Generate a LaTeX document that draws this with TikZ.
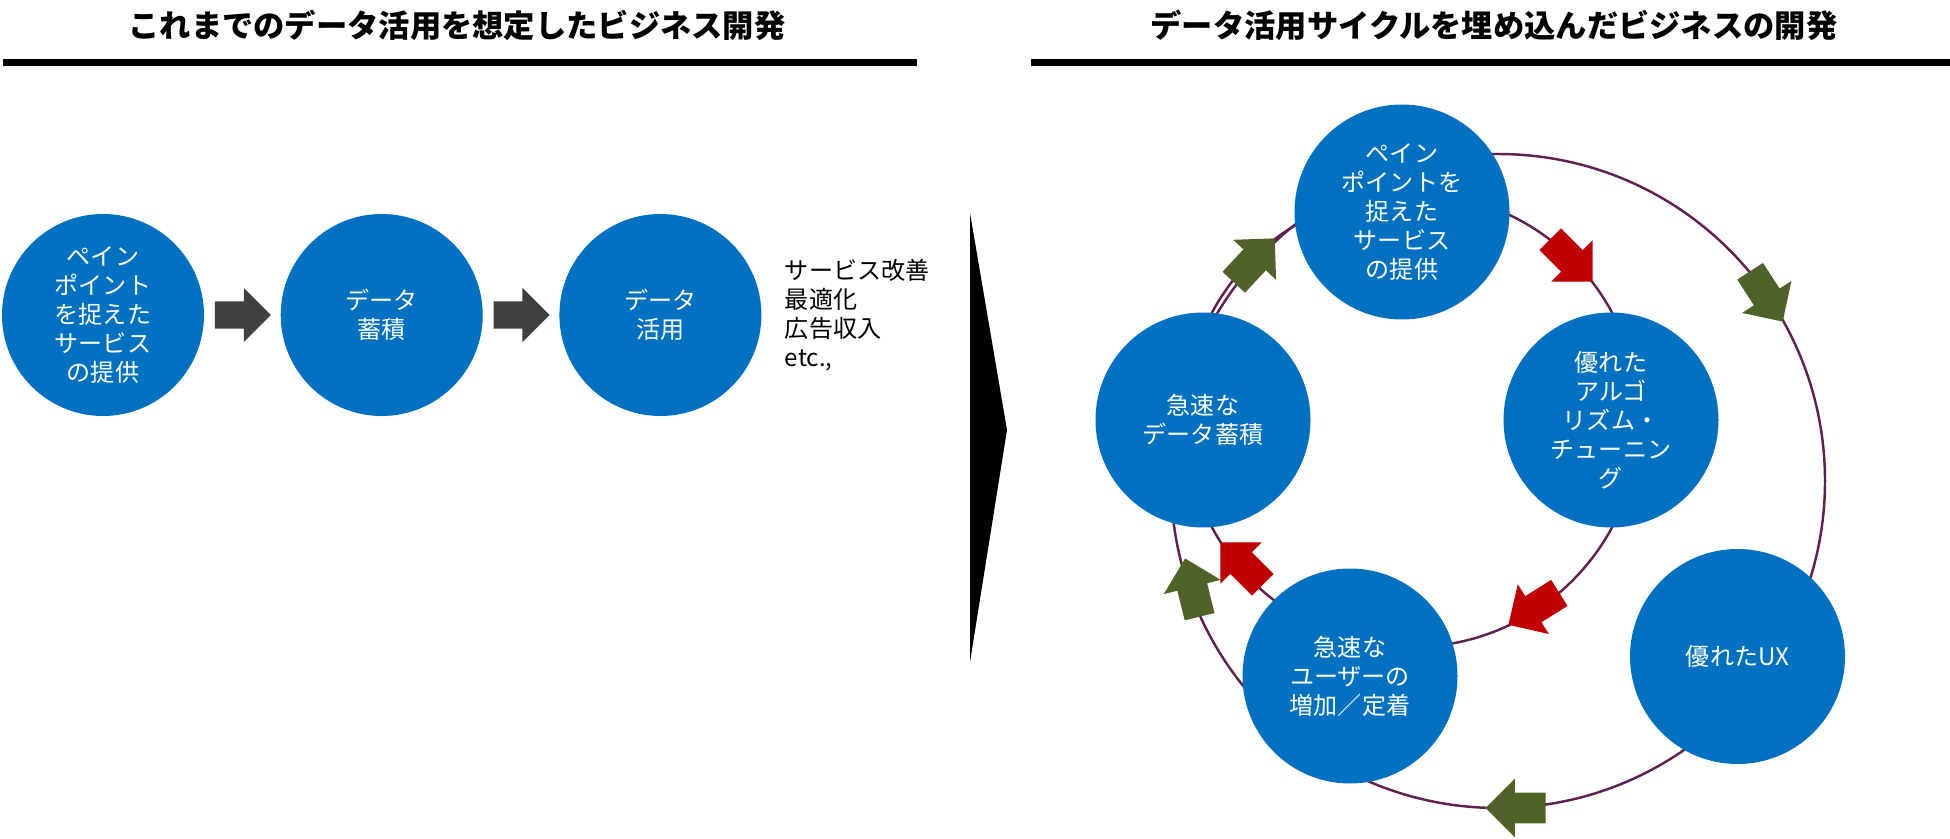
\documentclass[tikz,border=0pt]{standalone}
\usepackage{fontspec}
\setmainfont{Noto Sans CJK JP}
\usepackage{tikz}
\usetikzlibrary{positioning,calc,shapes.arrows}
\definecolor{bubble}{RGB}{0,112,192}
\definecolor{ring}{RGB}{96,32,80}
\definecolor{hotred}{RGB}{192,0,0}
\definecolor{leaf}{RGB}{79,98,40}
\definecolor{arrowgray}{RGB}{64,64,64}

\begin{document}
\begin{tikzpicture}[
  font=\fontsize{13.7pt}{16.5pt}\selectfont,
  bubble/.style={circle,fill=bubble,text=white,align=center,inner sep=0pt},
  flow/.style={single arrow,fill=arrowgray,inner xsep=0pt,inner ysep=0.265cm,
    single arrow head extend=0.27cm,minimum height=1.12cm,anchor=tip},
  cyc/.style={single arrow,inner xsep=0pt,inner ysep=0.3cm,
    single arrow head extend=0.28cm,minimum height=1.2cm,anchor=tip},
  heading/.style={font=\fontsize{17.8pt}{20pt}\selectfont\bfseries}]
  \useasboundingbox (0,0) rectangle (39,16.76);
  % headings
  \node[heading] (ttlold) at (9.14,16.25) {これまでのデータ活用を想定したビジネス開発};
  \node[heading] (ttlnew) at (29.88,16.25) {データ活用サイクルを埋め込んだビジネスの開発};
  \draw[line width=4pt] (0.06,15.51) -- (18.34,15.51);
  \draw[line width=4pt] (20.62,15.51) -- (39,15.51);
  % old flow
  \node[bubble,minimum size=4.04cm] (svc) at (2.06,10.46) {ペイン\\ポイント\\を捉えた\\サービス\\の提供};
  \node[bubble,minimum size=4.04cm,right=1.52cm of svc] (store) {データ\\蓄積};
  \node[bubble,minimum size=4.04cm,right=1.52cm of store] (use) {データ\\活用};
  \node[flow] (f1) at ([xshift=-0.18cm]store.west) {};
  \node[flow] (f2) at ([xshift=-0.18cm]use.west) {};
  \node[right=0.34cm of use,align=left] (gain) {サービス改善\\最適化\\広告収入\\etc.,};
  % divider
  \fill (19.4,12.5) -- (20.14,8.16) -- (19.4,3.52) -- cycle;
  % cycles
  \coordinate (inner) at (28.24,8.36);
  \coordinate (outer) at (29.96,7.14);
  \draw[ring,line width=1.4pt] (inner) circle (4.54);
  \draw[ring,line width=1.4pt] (outer) circle (6.54);
  \node[bubble,minimum size=4.3cm] (pain) at (28.04,12.52) {ペイン\\ポイントを\\捉えた\\サービス\\の提供};
  \node[bubble,minimum size=4.3cm] (algo) at (32.22,8.36) {優れた\\アルゴ\\リズム・\\チューニン\\グ};
  \node[bubble,minimum size=4.3cm] (fast) at (24.06,8.36) {急速な\\データ蓄積};
  \node[bubble,minimum size=4.3cm] (users) at (27.0,3.24) {急速な\\ユーザーの\\増加／定着};
  \node[bubble,minimum size=4.3cm] (ux) at (34.75,3.63) {優れたUX};
  \node[cyc,fill=hotred,rotate=-45] (r1) at (31.86,11.12) {};
  \node[cyc,fill=hotred,rotate=212] (r2) at (30.16,4.26) {};
  \node[cyc,fill=hotred,rotate=135] (r3) at (24.40,5.92) {};
  \node[cyc,fill=leaf,rotate=-57] (g1) at (35.66,10.32) {};
  \node[cyc,fill=leaf,rotate=180] (g2) at (29.70,0.60) {};
  \node[cyc,fill=leaf,rotate=104] (g3) at (23.70,5.60) {};
  \node[cyc,fill=leaf,rotate=47] (g4) at (25.50,12.0) {};
\end{tikzpicture}
\end{document}
